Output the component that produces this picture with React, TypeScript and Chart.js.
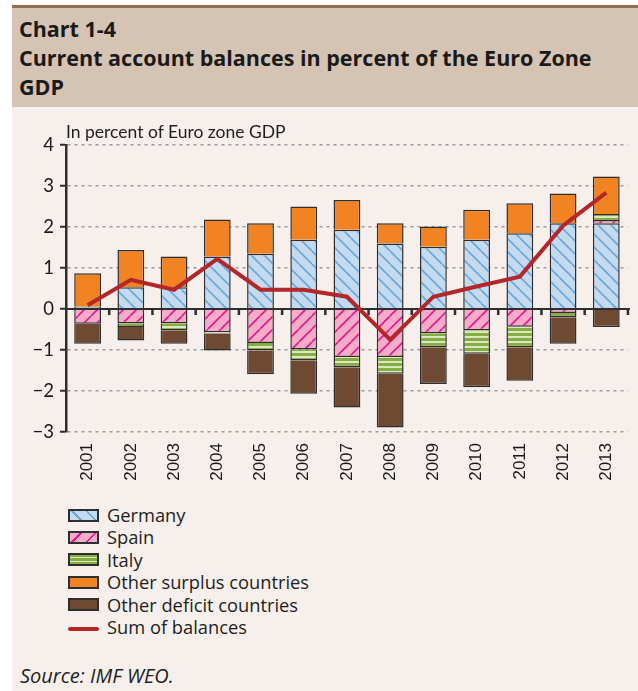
import React, { useEffect, useRef } from 'react';
import { Chart, registerables } from 'chart.js';

Chart.register(...registerables);

const years = ['2001', '2002', '2003', '2004', '2005', '2006', '2007', '2008', '2009', '2010', '2011', '2012', '2013'];
const germany = [0, 0.53, 0.53, 1.28, 1.35, 1.69, 1.93, 1.6, 1.52, 1.69, 1.85, 2.09, 2.09];
const spain = [-0.36, -0.35, -0.35, -0.57, -0.83, -0.99, -1.17, -1.17, -0.59, -0.52, -0.43, -0.1, 0.08];
const italy = [0.06, -0.09, -0.17, -0.03, -0.18, -0.26, -0.25, -0.41, -0.34, -0.57, -0.5, -0.1, 0.15];
const otherSurplus = [0.81, 0.91, 0.75, 0.9, 0.74, 0.81, 0.73, 0.49, 0.49, 0.73, 0.73, 0.73, 0.91];
const otherDeficit = [-0.49, -0.33, -0.33, -0.41, -0.58, -0.82, -0.98, -1.31, -0.9, -0.82, -0.82, -0.65, -0.44];
const sumBalances = [0.09, 0.71, 0.47, 1.22, 0.47, 0.47, 0.3, -0.75, 0.3, 0.55, 0.79, 2.03, 2.84];
const yTicks = [-3, -2, -1, 0, 1, 2, 3, 4];

const C_GER_BG = '#c4daef';
const C_GER_LN = '#6aa7d8';
const C_ESP_BG = '#f6abc9';
const C_ESP_LN = '#e2188e';
const C_ITA_BG = '#86ad45';
const C_ITA_LN = '#dce9bd';
const C_SUR = '#f28322';
const C_DEF = '#6e4a33';
const C_SUM = '#b3262a';
const C_BORDER = '#2e2e2e';

function diagPattern(bg: string, fg: string, dir: 'back' | 'fwd', n: number) {
  const c = document.createElement('canvas');
  c.width = n;
  c.height = n;
  const g = c.getContext('2d')!;
  g.fillStyle = bg;
  g.fillRect(0, 0, n, n);
  g.strokeStyle = fg;
  g.lineWidth = 1.6;
  g.beginPath();
  for (let k = -1; k <= 1; k++) {
    if (dir === 'back') {
      g.moveTo(k * n, 0);
      g.lineTo(k * n + n, n);
    } else {
      g.moveTo(k * n, n);
      g.lineTo(k * n + n, 0);
    }
  }
  g.stroke();
  return g.createPattern(c, 'repeat')!;
}

function stripePattern(bg: string, fg: string) {
  const c = document.createElement('canvas');
  c.width = 4;
  c.height = 5;
  const g = c.getContext('2d')!;
  g.fillStyle = bg;
  g.fillRect(0, 0, 4, 5);
  g.fillStyle = fg;
  g.fillRect(0, 3, 4, 2);
  return g.createPattern(c, 'repeat')!;
}

const FONT = 'Lato, "Open Sans", sans-serif';
const FONT_WIDE = '"Open Sans", Lato, sans-serif';

export default function App() {
  const ref = useRef<HTMLCanvasElement>(null);

  useEffect(() => {
    document.body.style.margin = '0';
    const canvas = ref.current!;
    const zeroLine = {
      id: 'zeroLine',
      afterDatasetDraw(chart: any, args: any) {
        if (args.index !== 0) return;
        const { ctx, chartArea } = chart;
        const xs = chart.scales.x;
        const y0 = chart.scales.y.getPixelForValue(0);
        ctx.save();
        ctx.strokeStyle = C_BORDER;
        ctx.lineWidth = 2;
        ctx.beginPath();
        ctx.moveTo(chartArea.left, y0);
        ctx.lineTo(chartArea.right + 2, y0);
        ctx.stroke();
        ctx.lineWidth = 2.5;
        ctx.beginPath();
        for (let i = 1; i <= years.length; i++) {
          const x = i < years.length ? (xs.getPixelForValue(i - 1) + xs.getPixelForValue(i)) / 2 : chartArea.right;
          ctx.moveTo(x, y0);
          ctx.lineTo(x, y0 + 6);
        }
        ctx.stroke();
        ctx.restore();
      },
    };

    const barCommon = {
      borderColor: C_BORDER,
      borderWidth: 1.5,
      barPercentage: 0.62,
      categoryPercentage: 1,
      stack: 'bars',
      order: 0,
    };

    const chart = new Chart(canvas, {
      type: 'bar',
      data: {
        labels: years,
        datasets: [
          { ...barCommon, label: 'Germany', data: germany, backgroundColor: diagPattern(C_GER_BG, C_GER_LN, 'back', 13) },
          { ...barCommon, label: 'Spain', data: spain, backgroundColor: diagPattern(C_ESP_BG, C_ESP_LN, 'fwd', 13) },
          { ...barCommon, label: 'Italy', data: italy, backgroundColor: stripePattern(C_ITA_BG, C_ITA_LN) },
          { ...barCommon, label: 'Other surplus countries', data: otherSurplus, backgroundColor: C_SUR },
          { ...barCommon, label: 'Other deficit countries', data: otherDeficit, backgroundColor: C_DEF },
          {
            type: 'line',
            label: 'Sum of balances',
            data: sumBalances,
            borderColor: C_SUM,
            backgroundColor: C_SUM,
            borderWidth: 4,
            pointRadius: 0,
            tension: 0,
            stack: 'sum',
            order: -1,
          } as any,
        ],
      },
      options: {
        responsive: false,
        animation: false,
        devicePixelRatio: 1,
        layout: { padding: { top: 37, right: 8, left: 0, bottom: 0 } },
        plugins: { legend: { display: false }, tooltip: { enabled: false } },
        scales: {
          x: {
            stacked: true,
            grid: { display: false, drawTicks: false },
            border: { display: false },
            ticks: {
              minRotation: 90,
              maxRotation: 90,
              padding: 11,
              color: '#1a1a1a',
              font: { family: '"Liberation Sans", Arial, sans-serif', size: 17 },
            },
            afterFit: (s: any) => {
              s.height = 68;
            },
          },
          y: {
            stacked: true,
            min: -3,
            max: 4,
            afterBuildTicks: (s: any) => {
              s.ticks = yTicks.map((v) => ({ value: v }));
            },
            grid: {
              color: '#9b9b9b',
              lineWidth: 1.5,
              tickColor: C_BORDER,
              tickWidth: 2,
              tickLength: 6,
              tickBorderDash: [],
            },
            border: { display: true, color: C_BORDER, width: 2.5, dash: [3, 4] },
            ticks: {
              padding: 6,
              color: '#1a1a1a',
              font: { family: FONT, size: 18.5 },
              callback: (v: any) => (Number(v) < 0 ? '\u2212' + Math.abs(Number(v)) : String(v)),
            },
            afterFit: (s: any) => {
              s.width = 66;
            },
          },
        },
      },
      plugins: [zeroLine],
    });
    return () => chart.destroy();
  }, []);

  const legendItems = [
    {
      label: 'Germany',
      bg: `repeating-linear-gradient(45deg, ${C_GER_BG} 0px, ${C_GER_BG} 7px, ${C_GER_LN} 7px, ${C_GER_LN} 8.5px, ${C_GER_BG} 8.5px, ${C_GER_BG} 10px)`,
    },
    {
      label: 'Spain',
      bg: `repeating-linear-gradient(135deg, ${C_ESP_BG} 0px, ${C_ESP_BG} 7px, ${C_ESP_LN} 7px, ${C_ESP_LN} 8.5px, ${C_ESP_BG} 8.5px, ${C_ESP_BG} 10px)`,
    },
    {
      label: 'Italy',
      bg: `repeating-linear-gradient(180deg, ${C_ITA_BG} 0px, ${C_ITA_BG} 2px, ${C_ITA_LN} 2px, ${C_ITA_LN} 3.5px, ${C_ITA_BG} 3.5px, ${C_ITA_BG} 4px)`,
    },
    { label: 'Other surplus countries', bg: C_SUR },
    { label: 'Other deficit countries', bg: C_DEF },
  ];

  return (
    <div
      style={{
        position: 'absolute',
        left: 0,
        top: 0,
        width: 638,
        height: 691,
        background: '#ffffff',
        overflow: 'hidden',
        fontFamily: FONT,
        color: '#1e1e1e',
      }}
    >
      <div style={{ position: 'absolute', left: 12, top: 5, width: 626, height: 3, background: '#8d6e4f' }} />
      <div style={{ position: 'absolute', left: 12, top: 8, width: 626, height: 99, background: '#d5c4b3' }} />
      <div style={{ position: 'absolute', left: 12, top: 107, width: 626, height: 584, background: '#f6efeb' }} />
      <div
        style={{
          position: 'absolute',
          left: 19,
          top: 14,
          fontFamily: FONT_WIDE,
          fontWeight: 700,
          fontSize: 21.5,
          lineHeight: '29px',
          color: '#1a1a1a',
          whiteSpace: 'nowrap',
        }}
      >
        <div>Chart 1-4</div>
        <div>Current account balances in percent of the Euro Zone</div>
        <div>GDP</div>
      </div>
      <canvas
        ref={ref}
        width={638}
        height={392}
        style={{ position: 'absolute', left: 0, top: 108, width: 638, height: 392 }}
      />
      <div
        style={{
          position: 'absolute',
          left: 66,
          top: 121,
          fontSize: 17.5,
          lineHeight: '22px',
          whiteSpace: 'nowrap',
        }}
      >
        In percent of Euro zone GDP
      </div>
      {legendItems.map((it, i) => (
        <div
          key={it.label}
          style={{ position: 'absolute', left: 68, top: 504 + i * 22.4, height: 22, display: 'flex', alignItems: 'center' }}
        >
          <div
            style={{
              width: 27,
              height: 9,
              border: `2px solid ${C_BORDER}`,
              background: it.bg,
              marginRight: 8,
            }}
          />
          <span style={{ fontFamily: FONT_WIDE, fontSize: 18.3, lineHeight: '22px', whiteSpace: 'nowrap' }}>{it.label}</span>
        </div>
      ))}
      <div
        style={{ position: 'absolute', left: 68, top: 504 + 5 * 22.4, height: 22, display: 'flex', alignItems: 'center' }}
      >
        <div style={{ width: 31, height: 4, borderRadius: 2, background: C_SUM, marginRight: 8, marginTop: 4 }} />
        <span style={{ fontFamily: FONT_WIDE, fontSize: 18.3, lineHeight: '22px', whiteSpace: 'nowrap' }}>Sum of balances</span>
      </div>
      <div
        style={{
          position: 'absolute',
          left: 20,
          top: 664,
          fontFamily: FONT_WIDE,
          fontSize: 20,
          lineHeight: '24px',
          fontStyle: 'italic',
          whiteSpace: 'nowrap',
        }}
      >
        Source: IMF WEO.
      </div>
    </div>
  );
}
